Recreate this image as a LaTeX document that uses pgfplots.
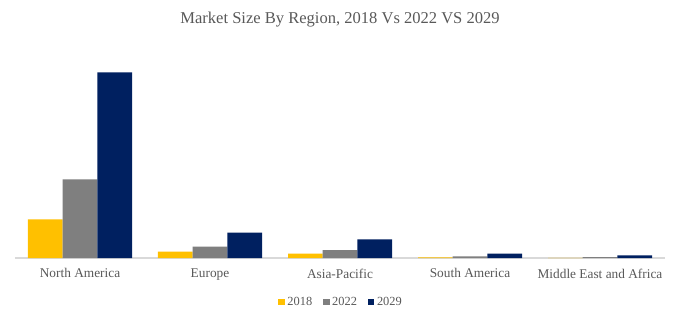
\documentclass[border=0pt]{standalone}
\usepackage{fontspec}
\setmainfont{Liberation Serif}
\usepackage{pgfplots}
\pgfplotsset{compat=1.18}
\definecolor{cy}{HTML}{FFC000}
\definecolor{cg}{HTML}{7F7F7F}
\definecolor{cn}{HTML}{002060}
\definecolor{txt}{HTML}{595959}
\definecolor{axl}{HTML}{D9D9D9}
\begin{document}
\begin{tikzpicture}
\path[use as bounding box, fill=white] (-11.25pt,-48pt) rectangle (499.5pt,193.5pt);
\begin{axis}[
  at={(0,0)}, anchor=south west,
  scale only axis, width=487.5pt, height=163.5pt,
  xmin=-0.5, xmax=4.5, ymin=0, ymax=218,
  ybar=0pt, bar width=26pt,
  axis x line*=bottom, axis y line=none,
  x axis line style={axl, line width=0.8pt, -},
  xtick=data, major tick length=0pt,
  xticklabels={North America,Europe,Asia-Pacific,South America,Middle East and Africa},
  xticklabel style={font=\fontsize{10}{11}\selectfont, text=txt},
  every tick label/.append style={yshift=-4.5pt},
  legend style={at={(0.502,0)}, anchor=center, yshift=-33pt, draw=none, legend columns=-1,
    font=\fontsize{9.3}{10}\selectfont, text=txt,
    /tikz/every even column/.append style={column sep=6pt}},
  legend image code/.code={\fill[#1] (0pt,-2.5pt) rectangle (5pt,2.5pt);},
  legend cell align=left,
]
\addplot[fill=cy, draw=none] coordinates {(0,38.7) (1,6.3) (2,4.3) (3,0.7) (4,0.2)};
\addplot[fill=cg, draw=none] coordinates {(0,78.7) (1,11.3) (2,8.0) (3,1.7) (4,0.9)};
\addplot[fill=cn, draw=none] coordinates {(0,185.7) (1,25.3) (2,18.7) (3,4.3) (4,2.7)};
\legend{2018,2022,2029}
\end{axis}
\node[text=txt, font=\fontsize{12.4}{13}\selectfont] at (243.75pt,179pt) {Market Size By Region, 2018 Vs 2022 VS 2029};
\end{tikzpicture}
\end{document}
